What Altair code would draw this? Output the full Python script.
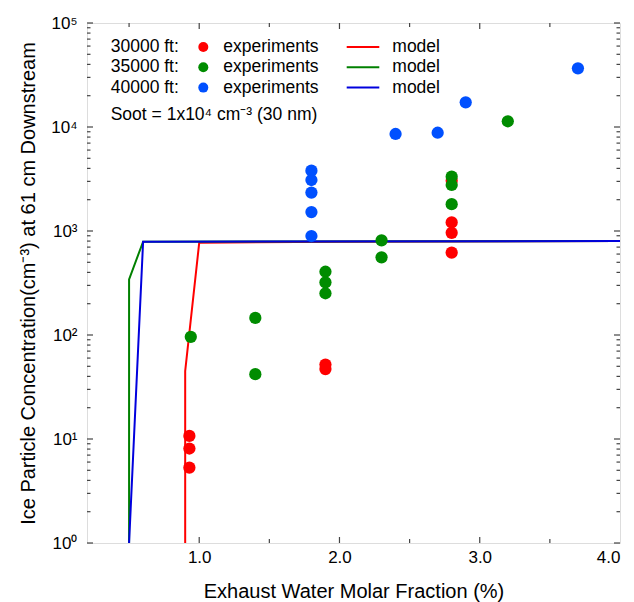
import altair as alt
import pandas as pd

# ---------------- data ----------------
red_x = [0.93, 0.93, 0.93, 1.9, 1.9, 2.8, 2.8, 2.8, 2.8]
red_y = [10.7, 8.1, 5.3, 52, 47, 3050, 1210, 960, 620]

green_x = [0.94, 1.4, 1.4, 1.9, 1.9, 1.9, 2.3, 2.3, 2.8, 2.8, 2.8, 3.2]
green_y = [96, 146, 42, 406, 321, 252, 814, 558, 3330, 2770, 1810, 11350]

blue_x = [1.8, 1.8, 1.8, 1.8, 1.8, 2.4, 2.7, 2.9, 3.7]
blue_y = [3800, 3090, 2340, 1520, 895, 8570, 8810, 17270, 36650]

red_model_x = [0.9, 0.9, 1.0, 2.0, 4.0]
red_model_y = [1, 45, 770, 790, 800]
green_model_x = [0.5, 0.5, 0.6, 4.0]
green_model_y = [1, 343, 790, 800]
blue_model_x = [0.5, 0.6, 4.0]
blue_model_y = [1, 790, 800]

altitudes = ["30000 ft:", "35000 ft:", "40000 ft:"]
point_colors = ["#ff0000", "#008c00", "#0050ff"]
line_colors = ["#ff0000", "#008000", "#0000dd"]

x_labels = [1.0, 2.0, 3.0, 4.0]
x_ticks_major = [1.0, 2.0, 3.0]
x_ticks_minor = [0.5, 1.5, 2.5, 3.5]
y_ticks_major = [1, 10, 100, 1000, 10000, 100000]
y_ticks_minor = [m * 10 ** k for k in range(5) for m in range(2, 10)]

W, H = 533, 520
FONT = "Liberation Sans"

xscale = alt.Scale(domain=[0.2, 4.0], nice=False, zero=False)
yscale = alt.Scale(type="log", domain=[1, 100000], nice=False)
xaxis = alt.Axis(values=x_labels, format=".1f", ticks=False, domain=False, grid=False,
                 labelFontSize=17, labelPadding=6, labelColor="black", labelFont=FONT,
                 title="Exhaust Water Molar Fraction (%)", titleFontSize=20,
                 titleFontWeight="normal", titleFont=FONT, titleColor="black", titlePadding=16)
yaxis = alt.Axis(values=y_ticks_major, ticks=False, domain=False, grid=False,
                 labelExpr="'10' + ['⁰','¹','²','³','⁴','⁵'][round(log(datum.value)/LN10)]",
                 labelFontSize=17, labelPadding=10, labelColor="black", labelFont=FONT,
                 title="Ice Particle Concentration(cm⁻³) at 61 cm Downstream",
                 titleFontSize=20, titleFontWeight="normal", titleFont=FONT,
                 titleColor="black", titlePadding=12)
X = alt.X("x:Q", scale=xscale, axis=xaxis)
Y = alt.Y("y:Q", scale=yscale, axis=yaxis)

layers = []

# inner ticks
tick_color = "#444444"
def xt(vals, length):
    df = pd.DataFrame({"x": vals})
    bottom = alt.Chart(df).mark_rule(color=tick_color, strokeWidth=1.2).encode(
        x=X, y=alt.value(H), y2=alt.value(H - length))
    top = alt.Chart(df).mark_rule(color=tick_color, strokeWidth=1.2).encode(
        x=X, y=alt.value(0), y2=alt.value(length))
    return [bottom, top]

def yt(vals, length):
    df = pd.DataFrame({"y": vals})
    left = alt.Chart(df).mark_rule(color=tick_color, strokeWidth=1.2).encode(
        y=Y, x=alt.value(0), x2=alt.value(length))
    right = alt.Chart(df).mark_rule(color=tick_color, strokeWidth=1.2).encode(
        y=Y, x=alt.value(W), x2=alt.value(W - length))
    return [left, right]

layers += xt(x_ticks_major, 6) + xt(x_ticks_minor, 4)
layers += yt(y_ticks_major, 6) + yt(y_ticks_minor, 3.5)

# model lines
for mx, my, c in [(red_model_x, red_model_y, line_colors[0]),
                  (green_model_x, green_model_y, line_colors[1]),
                  (blue_model_x, blue_model_y, line_colors[2])]:
    df = pd.DataFrame({"x": mx, "y": my, "o": list(range(len(mx)))})
    layers.append(alt.Chart(df).mark_line(color=c, strokeWidth=2).encode(
        x=X, y=Y, order="o:Q"))

# experiment points
for px, py, c in [(red_x, red_y, point_colors[0]),
                  (green_x, green_y, point_colors[1]),
                  (blue_x, blue_y, point_colors[2])]:
    df = pd.DataFrame({"x": px, "y": py})
    layers.append(alt.Chart(df).mark_circle(color=c, size=150, opacity=1).encode(x=X, y=Y))

# legend
one = pd.DataFrame({"a": [0]})
row_y = [24, 44.3, 64.6]
for i in range(3):
    yy = row_y[i]
    layers.append(alt.Chart(one).mark_text(align="left", baseline="middle", fontSize=17.5,
                                           font=FONT, color="black").encode(
        x=alt.value(23.7), y=alt.value(yy), text=alt.value(altitudes[i])))
    layers.append(alt.Chart(one).mark_circle(color=point_colors[i], size=100, opacity=1).encode(
        x=alt.value(116.3), y=alt.value(yy)))
    layers.append(alt.Chart(one).mark_text(align="left", baseline="middle", fontSize=17.5,
                                           font=FONT, color="black").encode(
        x=alt.value(136.3), y=alt.value(yy), text=alt.value("experiments")))
    layers.append(alt.Chart(one).mark_rule(color=line_colors[i], strokeWidth=2).encode(
        x=alt.value(259.7), x2=alt.value(292.3), y=alt.value(yy)))
    layers.append(alt.Chart(one).mark_text(align="left", baseline="middle", fontSize=17.5,
                                           font=FONT, color="black").encode(
        x=alt.value(305.3), y=alt.value(yy), text=alt.value("model")))

layers.append(alt.Chart(one).mark_text(align="left", baseline="middle", fontSize=17.5,
                                       font=FONT, color="black").encode(
    x=alt.value(23.7), y=alt.value(91.5), text=alt.value("Soot = 1x10⁴ cm⁻³ (30 nm)")))

chart = alt.layer(*layers).properties(
    width=W, height=H,
    autosize=alt.AutoSizeParams(type="none"),
    padding={"left": 79, "top": 15, "right": 6, "bottom": 64},
).configure_view(stroke="#3a3a3a", strokeWidth=2).configure(background="white")

chart.save("out.html", embed_options={"renderer": "svg", "actions": False})
